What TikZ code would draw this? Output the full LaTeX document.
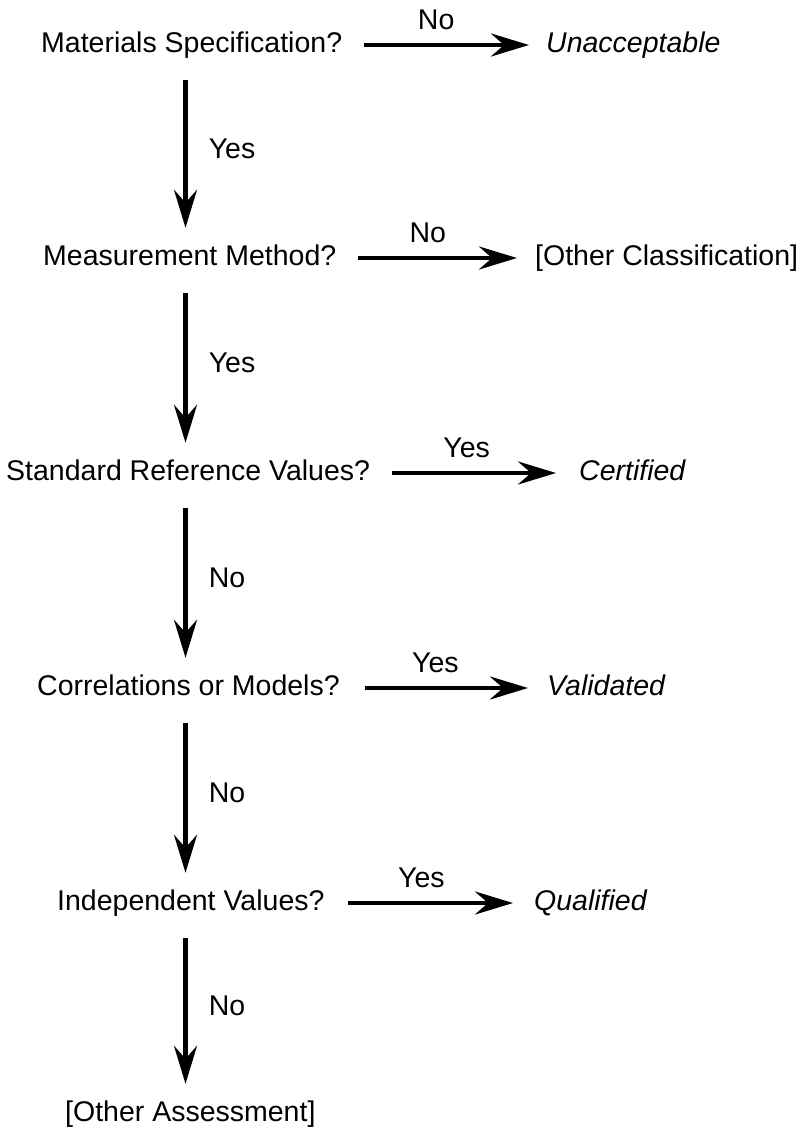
\documentclass[tikz,border=0pt]{standalone}
\usepackage{fontspec}
\setmainfont{Liberation Sans}
\usetikzlibrary{arrows.meta}

\begin{document}
\begin{tikzpicture}[x=1pt, y=-1pt,
  txt/.style={inner sep=0pt, text height=21pt, text depth=7pt,
              font=\fontsize{28.5}{34}\selectfont},
  result/.style={txt, font=\fontsize{28.5}{34}\selectfont\itshape},
  flow/.style={line width=4.5pt,
               -{Stealth[length=38pt, width=23pt, inset=13pt]}},
  hlab/.style={txt, midway, anchor=base, xshift=-8pt, yshift=16pt},
  vlab/.style={txt, midway, anchor=west, xshift=21pt, yshift=0pt}]

\useasboundingbox (0,0) rectangle (807,1133);

% spine of the decision chain
\coordinate (spine) at (185.5,0);

% questions
\node[txt, anchor=base west] (q1) at (41,52)   {Materials Specification?};
\node[txt, anchor=base west] (q2) at (43,265)  {Measurement Method?};
\node[txt, anchor=base west] (q3) at (6,480)   {Standard Reference Values?};
\node[txt, anchor=base west] (q4) at (37,695)  {Correlations or Models?};
\node[txt, anchor=base west] (q5) at (57,910)  {Independent Values?};
\node[txt, anchor=base west] (q6) at (65,1121) {[Other Assessment]};

% outcomes
\node[result, anchor=base west] (r1) at (546,52)  {Unacceptable};
\node[txt,    anchor=base west] (r2) at (535,265) {[Other Classification]};
\node[result, anchor=base west] (r3) at (579,480) {Certified};
\node[result, anchor=base west] (r4) at (547,695) {Validated};
\node[result, anchor=base west] (r5) at (534,910) {Qualified};

% side branches
\draw[flow, shorten <=22pt, shorten >=17pt] (q1) -- (r1) node[hlab] {No};
\draw[flow, shorten <=22pt, shorten >=18pt] (q2) -- (r2) node[hlab] {No};
\draw[flow, shorten <=22pt, shorten >=23pt] (q3) -- (r3) node[hlab] {Yes};
\draw[flow, shorten <=25pt, shorten >=19pt] (q4) -- (r4) node[hlab] {Yes};
\draw[flow, shorten <=23pt, shorten >=21pt] (q5) -- (r5) node[hlab] {Yes};

% main chain
\draw[flow, shorten <=21pt, shorten >=16pt] (q1.south -| spine) -- (q2.north -| spine) node[vlab] {Yes};
\draw[flow, shorten <=21pt, shorten >=16pt] (q2.south -| spine) -- (q3.north -| spine) node[vlab] {Yes};
\draw[flow, shorten <=21pt, shorten >=16pt] (q3.south -| spine) -- (q4.north -| spine) node[vlab] {No};
\draw[flow, shorten <=21pt, shorten >=16pt] (q4.south -| spine) -- (q5.north -| spine) node[vlab] {No};
\draw[flow, shorten <=21pt, shorten >=16pt] (q5.south -| spine) -- (q6.north -| spine) node[vlab] {No};

\end{tikzpicture}
\end{document}
